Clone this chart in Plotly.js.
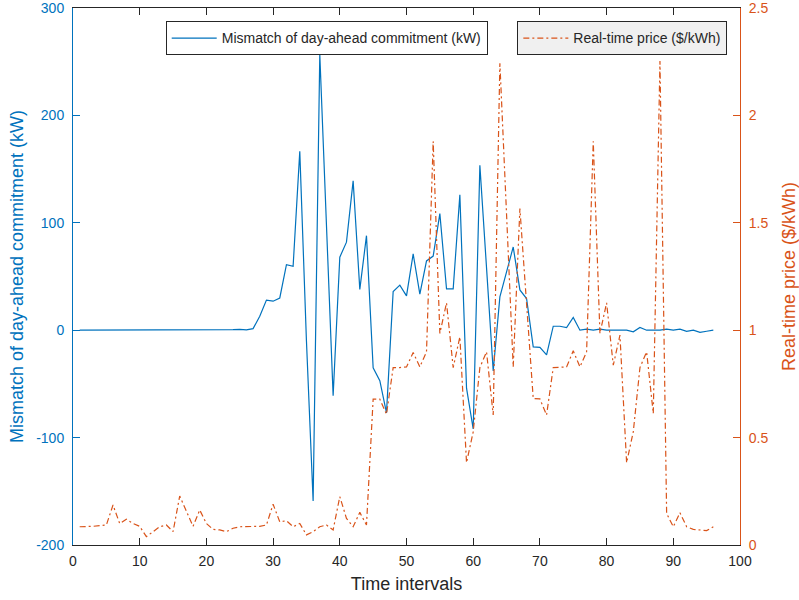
<!DOCTYPE html>
<html>
<head>
<meta charset="utf-8">
<script src="https://cdn.plot.ly/plotly-3.0.1.min.js"></script>
<style>
  html, body { margin: 0; padding: 0; background: #fff; }
  #chart { width: 799px; height: 600px; }
</style>
</head>
<body>
<div id="chart"></div>
<script>
// Time intervals 1..96
const intervals = [
  1,2,3,4,5,6,7,8,9,10,11,12,13,14,15,16,17,18,19,20,21,22,23,24,
  25,26,27,28,29,30,31,32,33,34,35,36,37,38,39,40,41,42,43,44,45,46,47,48,
  49,50,51,52,53,54,55,56,57,58,59,60,61,62,63,64,65,66,67,68,69,70,71,72,
  73,74,75,76,77,78,79,80,81,82,83,84,85,86,87,88,89,90,91,92,93,94,95,96
];

// Mismatch of day-ahead commitment (kW)
const mismatch = [
  0,0,0,0,0,0,0,0,0,0,0,0,0,0,0,0,0,0,0,0,0,0,0,0.5,
  0.8,0.3,1.5,13,28,27,30,61,59.5,166.5,-10,-159,257,100,-61,68,82,139,38,88,-35,-47,-77,36,
  42,32,71,33.5,64.5,69,108.5,38.5,38.5,126,-54,-92,153.5,58,-38,31,54,77.5,37.5,29.5,-15.5,-16,-23,3.7,
  3.7,2.5,11.8,0,1,0,1,0,0,0,0,-1.5,2.5,0,0,0,1,0,1,-1,0,-2,-1,0
];

// Real-time price ($/kWh)
const price = [
  0.085,0.085,0.087,0.09,0.093,0.186,0.10,0.12,0.10,0.087,0.039,0.062,0.085,0.093,0.062,0.228,0.155,0.087,0.163,0.10,0.073,0.07,0.062,0.078,
  0.085,0.085,0.085,0.087,0.093,0.19,0.108,0.113,0.085,0.10,0.047,0.062,0.085,0.093,0.07,0.225,0.124,0.085,0.152,0.093,0.679,0.679,0.609,0.826,
  0.826,0.829,0.896,0.829,0.899,1.879,0.985,1.127,0.826,0.969,0.383,0.527,0.826,0.899,0.605,2.243,1.54,0.829,1.566,1.12,0.682,0.68,0.605,0.826,
  0.826,0.829,0.904,0.829,0.899,1.879,0.985,1.127,0.837,0.977,0.383,0.527,0.826,0.899,0.612,2.253,0.147,0.085,0.15,0.085,0.073,0.07,0.067,0.085
];

const xTicks = [0,10,20,30,40,50,60,70,80,90,100];
const yLeftTicks = [-200,-100,0,100,200,300];
const yRightTicks = [0,0.5,1,1.5,2,2.5];

const BLUE = '#0072BD';
const ORANGE = '#D95319';
const DARK = '#262626';
const FONT = 'Liberation Sans, Arial, Helvetica, sans-serif';

const traces = [
  {
    x: intervals, y: mismatch, type: 'scatter', mode: 'lines',
    name: 'Mismatch of day-ahead commitment (kW)',
    line: { color: BLUE, width: 1.2 },
    yaxis: 'y', legend: 'legend'
  },
  {
    x: intervals, y: price, type: 'scatter', mode: 'lines',
    name: 'Real-time price ($/kWh)',
    line: { color: ORANGE, width: 1.2, dash: '6px,3px,2px,3px' },
    yaxis: 'y2', legend: 'legend2'
  }
];

const layout = {
  width: 799, height: 600,
  margin: { l: 73, r: 59, t: 8, b: 55, pad: 0 },
  paper_bgcolor: '#ffffff', plot_bgcolor: '#ffffff',
  font: { family: FONT, size: 14, color: DARK },
  showlegend: true,
  xaxis: {
    range: [0, 100], tickvals: xTicks, ticktext: xTicks.map(String),
    ticks: 'inside', ticklen: 7, tickwidth: 1, tickcolor: DARK,
    showline: true, linecolor: DARK, linewidth: 1, mirror: 'ticks',
    showgrid: false, zeroline: false,
    tickfont: { family: FONT, size: 14, color: DARK },
    ticklabelstandoff: 3, ticklabeloverflow: 'allow',
    title: { text: 'Time intervals', font: { family: FONT, size: 18, color: DARK }, standoff: 9 }
  },
  yaxis: {
    range: [-200, 300], tickvals: yLeftTicks, ticktext: yLeftTicks.map(String),
    ticks: 'inside', ticklen: 7, tickwidth: 1, tickcolor: BLUE,
    showline: true, linecolor: BLUE, linewidth: 1,
    showgrid: false, zeroline: false,
    tickfont: { family: FONT, size: 14, color: BLUE },
    ticklabelstandoff: 5, ticklabeloverflow: 'allow',
    title: { text: 'Mismatch of day-ahead commitment (kW)', font: { family: FONT, size: 18, color: BLUE }, standoff: 7 }
  },
  yaxis2: {
    range: [0, 2.5], tickvals: yRightTicks, ticktext: yRightTicks.map(String),
    overlaying: 'y', side: 'right',
    ticks: 'inside', ticklen: 7, tickwidth: 1, tickcolor: ORANGE,
    showline: true, linecolor: ORANGE, linewidth: 1,
    showgrid: false, zeroline: false,
    tickfont: { family: FONT, size: 14, color: ORANGE },
    ticklabelstandoff: 5, ticklabeloverflow: 'allow',
    title: { text: 'Real-time price ($/kWh)', font: { family: FONT, size: 18, color: ORANGE }, standoff: 15 }
  },
  legend: {
    x: 0.139, y: 0.975, xanchor: 'left', yanchor: 'top',
    bgcolor: '#ffffff', bordercolor: DARK, borderwidth: 1,
    font: { family: FONT, size: 14, color: DARK },
    itemwidth: 45, tracegroupgap: 0
  },
  legend2: {
    x: 0.981, y: 0.975, xanchor: 'right', yanchor: 'top',
    bgcolor: '#f0f0f0', bordercolor: DARK, borderwidth: 1,
    font: { family: FONT, size: 14, color: DARK },
    itemwidth: 45, tracegroupgap: 0
  }
};

Plotly.newPlot('chart', traces, layout, { displayModeBar: false, staticPlot: true });
</script>
</body>
</html>
